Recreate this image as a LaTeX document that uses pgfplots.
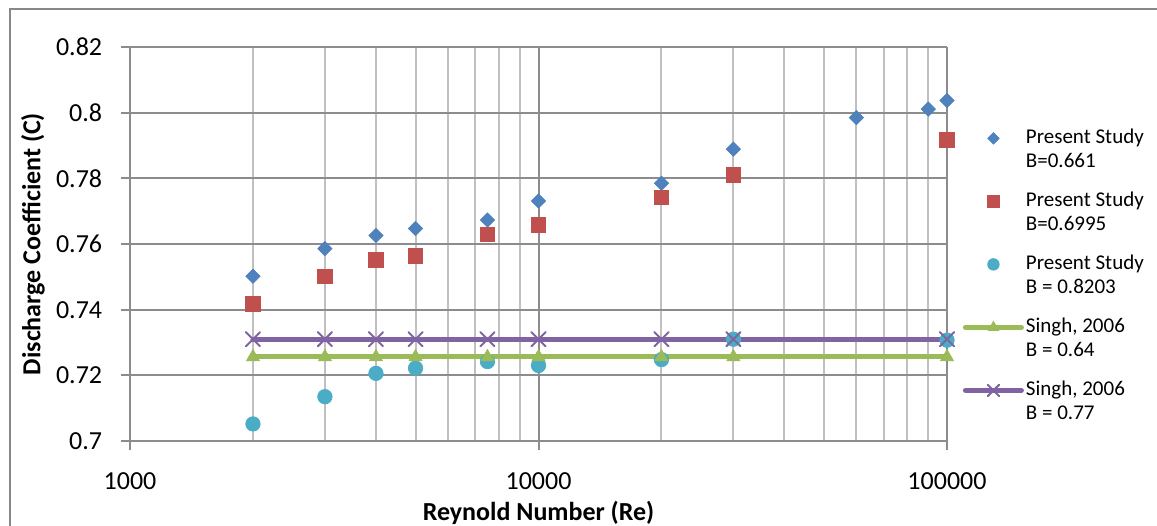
\documentclass[border=0pt]{standalone}
\usepackage{fontspec}
\setmainfont{Carlito}
\usepackage{pgfplots}
\pgfplotsset{compat=1.18}
\definecolor{cblue}{HTML}{4F81BD}
\definecolor{cred}{HTML}{C0504D}
\definecolor{ccyan}{HTML}{4BACC6}
\definecolor{cgreen}{HTML}{9BBB59}
\definecolor{cpurple}{HTML}{8064A2}
\definecolor{gmaj}{HTML}{8C8C8C}
\definecolor{gmin}{HTML}{C0C0C0}
\definecolor{gframe}{HTML}{888888}
\newcommand\la[1]{\rule[-3.5pt]{0pt}{12pt}#1}
\newcommand\lb[1]{\rule[-11pt]{0pt}{19.5pt}#1}
\begin{document}
\begin{tikzpicture}
\begin{axis}[
  at={(0pt,0pt)}, anchor=south west,
  scale only axis, width=408.5pt, height=197pt,
  xmode=log, log basis x=10,
  xmin=1000, xmax=100000, ymin=0.7, ymax=0.82,
  clip=false,
  xtick={1000,10000,100000}, xticklabels={1000,10000,100000},
  minor xtick={2000,3000,4000,5000,6000,7000,8000,9000,20000,30000,40000,50000,60000,70000,80000,90000},
  ytick={0.7,0.72,0.74,0.76,0.78,0.8,0.82},
  yticklabels={0.7,0.72,0.74,0.76,0.78,0.8,0.82},
  xmajorgrids, ymajorgrids, xminorgrids,
  major grid style={gmaj, line width=1pt},
  minor grid style={gmin, line width=1pt},
  axis lines*=left,
  axis line style={gmaj, line width=1pt},
  tick align=outside, major tick length=4.5pt, minor tick length=0pt,
  tick style={gmaj, line width=1pt},
  ticklabel style={font=\fontsize{13}{15}\selectfont, text=black},
  yticklabel style={anchor=east, inner sep=0pt, xshift=-9.25pt},
  xticklabel style={anchor=base, inner sep=0pt, yshift=-19.5pt},
  xlabel={Reynold Number (Re)}, ylabel={Discharge Coefficient (C)},
  label style={font=\bfseries\fontsize{13}{15}\selectfont},
  xlabel style={at={(rel axis cs:0.5,-0.203)}, anchor=base, inner sep=0pt},
  ylabel style={at={(rel axis cs:-0.1187,0.5)}, anchor=center, inner sep=0pt},
  legend style={at={(rel axis cs:1.019,0.7995)}, anchor=north west, draw=none, fill=none,
    inner sep=0pt, nodes={inner sep=0pt, text depth={}, text height={}, font=\fontsize{10.5}{12}\selectfont},
    row sep=0pt, column sep=0pt},
  legend cell align=left,
  legend image code/.code={\path (0pt,0pt) (29pt,0pt);
    \draw[mark repeat=2,mark phase=2, every mark/.append style={scale=0.8}] plot coordinates {(0pt,0pt)(14pt,0pt)(28pt,0pt)};},
]
\addplot[only marks, mark=square*, mark size=2.5pt, mark options={rotate=45, fill=cblue, draw=cblue}]
  coordinates {(2000,0.7502)(3000,0.7586)(4000,0.7626)(5000,0.7647)(7500,0.7673)(10000,0.7731)(20000,0.7785)(30000,0.7889)(60000,0.7985)(90000,0.8011)(100000,0.8037)};
\addlegendentry{\la{Present Study}}
\addlegendimage{empty legend}
\addlegendentry{\lb{B=0.661}}
\addplot[only marks, mark=square*, mark size=3.6pt, mark options={fill=cred, draw=cred}]
  coordinates {(2000,0.7417)(3000,0.7502)(4000,0.7551)(5000,0.7564)(7500,0.7629)(10000,0.7658)(20000,0.7742)(30000,0.7811)(100000,0.7917)};
\addlegendentry{\la{Present Study}}
\addlegendimage{empty legend}
\addlegendentry{\lb{B=0.6995}}
\addplot[only marks, mark=*, mark size=3.6pt, mark options={fill=ccyan, draw=ccyan}]
  coordinates {(2000,0.7052)(3000,0.7135)(4000,0.7206)(5000,0.7222)(7500,0.7242)(10000,0.7230)(20000,0.7248)(30000,0.7310)(100000,0.7307)};
\addlegendentry{\la{Present Study}}
\addlegendimage{empty legend}
\addlegendentry{\lb{B = 0.8203}}
\addplot[cgreen, line width=2.5pt, line cap=round, mark=triangle*, mark size=3.6pt, mark options={fill=cgreen, draw=cgreen, line width=0.5pt}]
  coordinates {(2000,0.7256)(3000,0.7256)(4000,0.7256)(5000,0.7256)(7500,0.7256)(10000,0.7256)(20000,0.7256)(30000,0.7256)(100000,0.7256)};
\addlegendentry{\la{Singh, 2006}}
\addlegendimage{empty legend}
\addlegendentry{\lb{B = 0.64}}
\addplot[cpurple, line width=2.5pt, line cap=round, mark=x, mark size=5pt, mark options={draw=cpurple, line width=1pt}]
  coordinates {(2000,0.7310)(3000,0.7310)(4000,0.7310)(5000,0.7310)(7500,0.7310)(10000,0.7310)(20000,0.7310)(30000,0.7310)(100000,0.7310)};
\addlegendentry{\la{Singh, 2006}}
\addlegendimage{empty legend}
\addlegendentry{\lb{B = 0.77}}
\end{axis}
\draw[gframe, line width=1pt] (-60pt,-60pt) -- (-60pt,216pt) -- (530pt,216pt);
\pgfresetboundingbox
\path[use as bounding box] (-65pt,-42pt) rectangle (513.5pt,220.5pt);
\end{tikzpicture}
\end{document}
